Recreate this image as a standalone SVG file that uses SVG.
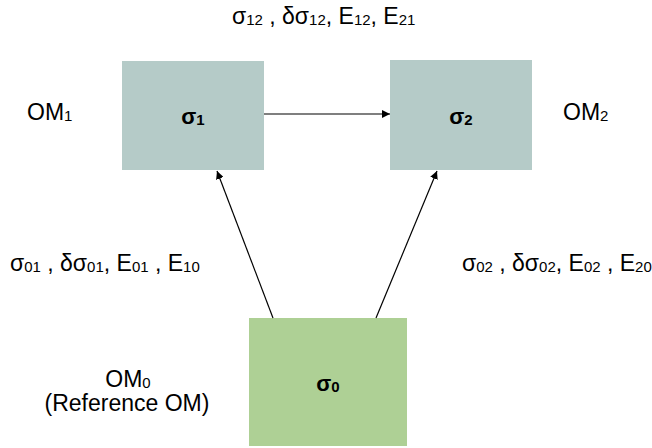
<svg xmlns="http://www.w3.org/2000/svg" width="652" height="448" viewBox="0 0 652 448">
<style>
text{font-family:"Liberation Sans",Arial,sans-serif;fill:#000}
.lbl{font-size:23px}
.sub{font-size:15px}
.node{font-size:22px;font-weight:bold}
.nsub{font-size:15px;font-weight:bold}
.edge{stroke:#000;stroke-width:1.2;fill:none;marker-end:url(#ah)}
</style>
<defs>
<marker id="ah" viewBox="0 0 10 10" refX="10" refY="5" markerWidth="8" markerHeight="8" markerUnits="userSpaceOnUse" orient="auto">
<path d="M0,0 L10,5 L0,10 z" fill="#000"/>
</marker>
</defs>
<rect width="652" height="448" fill="#fff"/>
<g id="n1">
<rect x="122" y="61" width="142" height="109" fill="#b5cbc8"/>
<text x="193" y="124" class="node" text-anchor="middle">σ<tspan class="nsub" dy="1">1</tspan></text>
</g>
<g id="n2">
<rect x="390" y="60" width="142" height="110" fill="#b5cbc8"/>
<text x="461" y="124" class="node" text-anchor="middle">σ<tspan class="nsub" dy="1">2</tspan></text>
</g>
<g id="n0">
<rect x="249" y="318" width="158" height="128" fill="#aed095"/>
<text x="328" y="391" class="node" text-anchor="middle">σ<tspan class="nsub" dy="1">0</tspan></text>
</g>
<g id="connectors">
<line class="edge" x1="264" y1="114" x2="390" y2="114"/>
<line class="edge" x1="273" y1="318" x2="217" y2="171"/>
<line class="edge" x1="376" y1="318" x2="437" y2="171"/>
</g>
<g id="labels">
<text x="232" y="24" class="lbl">σ<tspan class="sub" dy="1">12</tspan><tspan dy="-1"> , δσ</tspan><tspan class="sub" dy="1">12</tspan><tspan dy="-1">, E</tspan><tspan class="sub" dy="1">12</tspan><tspan dy="-1">, E</tspan><tspan class="sub" dy="1">21</tspan></text>
<text x="27" y="120" class="lbl">OM<tspan class="sub" dy="1">1</tspan></text>
<text x="563" y="120" class="lbl">OM<tspan class="sub" dy="1">2</tspan></text>
<text x="10" y="271" class="lbl">σ<tspan class="sub" dy="1">01</tspan><tspan dy="-1"> , δσ</tspan><tspan class="sub" dy="1">01</tspan><tspan dy="-1">, E</tspan><tspan class="sub" dy="1">01</tspan><tspan dy="-1"> , E</tspan><tspan class="sub" dy="1">10</tspan></text>
<text x="462" y="271" class="lbl">σ<tspan class="sub" dy="1">02</tspan><tspan dy="-1"> , δσ</tspan><tspan class="sub" dy="1">02</tspan><tspan dy="-1">, E</tspan><tspan class="sub" dy="1">02</tspan><tspan dy="-1"> , E</tspan><tspan class="sub" dy="1">20</tspan></text>
<text x="128" y="387" class="lbl" text-anchor="middle">OM<tspan class="sub" dy="1">0</tspan></text>
<text x="127" y="411" class="lbl" text-anchor="middle">(Reference OM)</text>
</g>
</svg>
